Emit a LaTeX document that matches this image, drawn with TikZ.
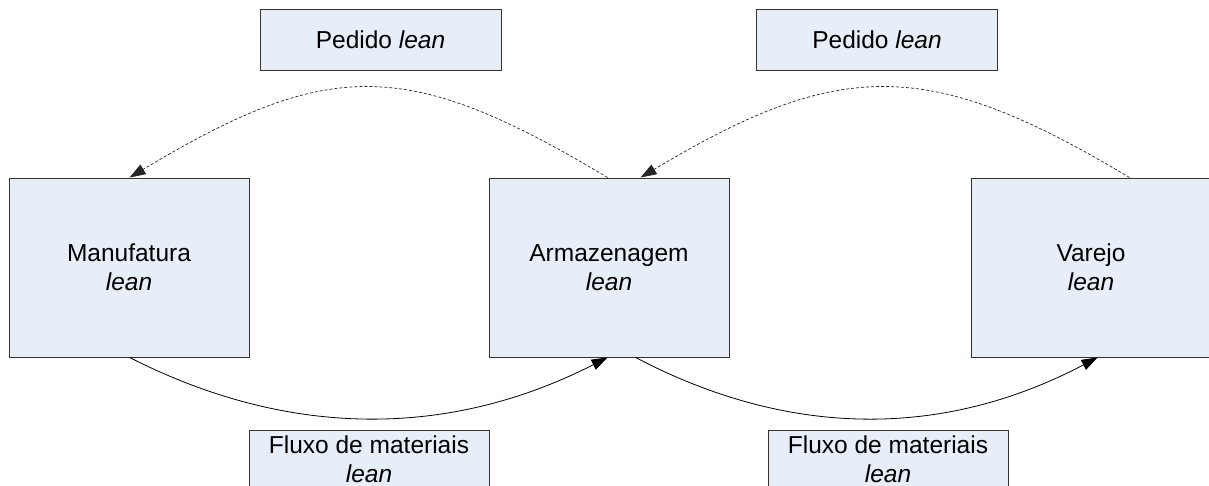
\documentclass[tikz,border=0pt]{standalone}
\usepackage{fontspec}
\setmainfont{Liberation Sans}
\usetikzlibrary{arrows.meta,calc}
\definecolor{boxfill}{HTML}{E8EEF7}
\definecolor{boxline}{HTML}{333333}
\tikzset{
  stagebox/.style={draw=boxline,fill=boxfill,line width=0.9pt,minimum width=240pt,minimum height=179pt,inner sep=0pt,align=center,font=\fontsize{24.5}{29}\selectfont},
  labelbox/.style={draw=boxline,fill=boxfill,line width=0.9pt,minimum width=241pt,minimum height=61pt,inner sep=0pt,align=center,font=\fontsize{24.5}{29}\selectfont},
  flowbox/.style={labelbox,minimum width=240pt,minimum height=59pt},
  orderarrow/.style={draw=black!85,line width=0.7pt,dash pattern=on 3pt off 2pt,-{Triangle[length=16pt,width=11pt]}},
  flowarrow/.style={draw=black,line width=0.8pt,-{Triangle[length=16pt,width=11pt]}}
}
\begin{document}
\begin{tikzpicture}[x=1pt,y=-1pt]
\useasboundingbox (0,0) rectangle (1209,486);
\clip (0,0) rectangle (1209,486);
\node[stagebox] (man) at (129,267.5) {Manufatura\\\textit{lean}};
\node[stagebox] (arm) at (609,267.5) {Armazenagem\\\textit{lean}};
\node[stagebox] (var) at (1091,267.5) {Varejo\\\textit{lean}};
\node[labelbox] (ped1) at (380.5,39.5) {Pedido \textit{lean}};
\node[labelbox] (ped2) at (877,39.5) {Pedido \textit{lean}};
\node[flowbox] (flu1) at (369,459.5) {Fluxo de materiais\\\textit{lean}};
\node[flowbox] (flu2) at (888,459.5) {Fluxo de materiais\\\textit{lean}};
% order (dashed) arcs
\coordinate (a1) at ([xshift=119pt]arm.north west);
\coordinate (m1) at ([xshift=121pt]man.north west);
\coordinate (v1) at ([xshift=159pt]var.north west);
\coordinate (a2) at ([xshift=152pt]arm.north west);
\draw[orderarrow] (a1) .. controls ($(a1)+(-200,-120)$) and ($(m1)+(200,-120)$) .. (m1);
\draw[orderarrow] (v1) .. controls ($(v1)+(-200,-120)$) and ($(a2)+(200,-120)$) .. (a2);
% material flow arcs
\coordinate (m2) at ([xshift=121pt]man.south west);
\coordinate (a3) at ([xshift=119pt]arm.south west);
\coordinate (a4) at ([xshift=147pt]arm.south west);
\coordinate (v2) at ([xshift=127pt]var.south west);
\draw[flowarrow] (m2) .. controls ($(m2)+(159,81)$) and ($(a3)+(-159,81)$) .. (a3);
\draw[flowarrow] (a4) .. controls ($(a4)+(154,81)$) and ($(v2)+(-154,81)$) .. (v2);
\end{tikzpicture}
\end{document}
